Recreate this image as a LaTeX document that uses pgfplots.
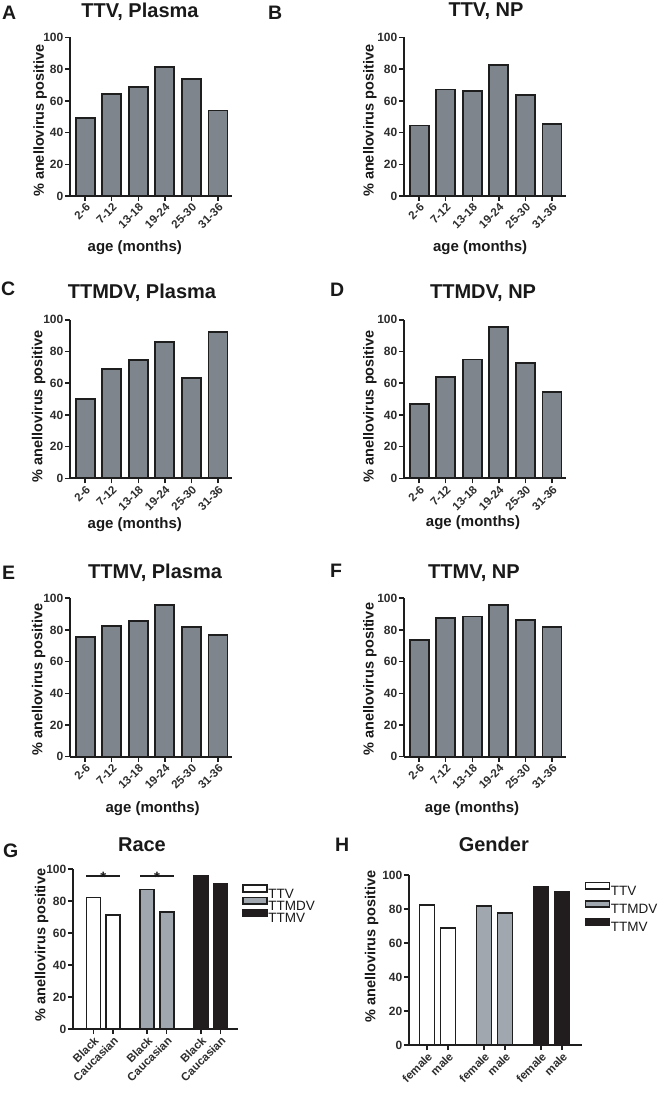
\documentclass[border=0pt]{standalone}
\usepackage{fontspec}
\setmainfont{Liberation Sans}
\usepackage{pgfplots}
\pgfplotsset{compat=1.18}

\newcommand\fs[1]{\fontsize{#1}{#1}\selectfont}

\definecolor{bargray}{RGB}{126,133,141}
\definecolor{ttmdv}{RGB}{160,167,175}
\definecolor{ttmv}{RGB}{33,29,30}
\definecolor{axcol}{RGB}{30,30,30}
\definecolor{tkcol}{RGB}{45,45,45}
\definecolor{lbcol}{RGB}{25,25,25}

\pgfplotsset{
  panel/.style={
    scale only axis, anchor=south west, clip=false,
    axis x line*=bottom, axis y line*=left,
    axis line style={line width=1.8pt, draw=axcol, -},
    tick style={line width=1.5pt, draw=axcol},
    tick align=outside, major tick length=5pt,
    ymin=0, ymax=100, ytick={0,20,...,100},
    /pgf/number format/assume math mode=true,
    yticklabel style={font=\fs{12}\bfseries, text=tkcol, inner sep=1.5pt},
    xticklabel style={font=\fs{11.5}\bfseries, text=tkcol, rotate=45, anchor=north east, inner sep=1pt},
    ylabel={\% anellovirus positive},
    ylabel style={font=\fs{14.5}\bfseries, text=lbcol, anchor=center},
    xlabel style={font=\fs{15}\bfseries, text=lbcol, anchor=center},
    title style={font=\fs{20}\bfseries, text=lbcol, anchor=base},
  },
  age/.style={panel, width=162pt, height=158.5pt, xmin=-0.57, xmax=5.53,
    xtick={0,...,5}, xticklabels={2-6,7-12,13-18,19-24,25-30,31-36},
    xlabel={age (months)}},
  gbar/.style={ybar, bar shift=0pt, bar width=19pt, fill=bargray, draw=axcol, line width=1.8pt},
  sw/.style={legend image code/.code={\draw[##1] (0pt,1.2pt) rectangle (24pt,7.8pt);}},
  leg/.style={legend cell align=left,
    legend style={draw=none, fill=none, font=\fs{13.5}, text=lbcol, inner sep=0pt,
      anchor=north west, nodes={inner sep=0.5pt, text height=10pt, text depth=0pt}}},
}

\begin{document}
\begin{tikzpicture}
\useasboundingbox (0,0) rectangle (670pt,1100pt);

% panel letters
\begin{scope}[every node/.style={anchor=base west, font=\fs{19.5}\bfseries, text=lbcol, inner sep=0pt}]
\node at (2pt,1080pt) {A};
\node at (268pt,1080pt) {B};
\node at (1pt,804pt) {C};
\node at (330pt,803pt) {D};
\node at (2pt,520pt) {E};
\node at (330pt,522pt) {F};
\node at (3pt,242pt) {G};
\node at (335pt,248pt) {H};
\end{scope}

% A
\begin{axis}[age, at={(70pt,904pt)}, title={TTV, Plasma},
  title style={at={(axis description cs:0.432,1.088)}},
  ylabel style={at={(axis description cs:-0.185,0.475)}},
  xlabel style={at={(axis description cs:0.40,-0.328)}}]
\addplot[gbar] coordinates {(0,49.4) (1,64.5) (2,69.0) (3,81.4) (4,73.9) (5,53.9)};
\end{axis}

% B
\begin{axis}[age, at={(404pt,904pt)}, title={TTV, NP},
  title style={at={(axis description cs:0.506,1.096)}},
  ylabel style={at={(axis description cs:-0.21,0.475)}},
  xlabel style={at={(axis description cs:0.47,-0.328)}}]
\addplot[gbar] coordinates {(0,44.5) (1,67.2) (2,66.0) (3,82.5) (4,63.7) (5,45.6)};
\end{axis}

% C
\begin{axis}[age, at={(70pt,621.7pt)}, title={TTMDV, Plasma},
  title style={at={(axis description cs:0.444,1.095)}},
  ylabel style={at={(axis description cs:-0.194,0.454)}},
  xlabel style={at={(axis description cs:0.40,-0.295)}}]
\addplot[gbar] coordinates {(0,50.2) (1,68.8) (2,74.4) (3,86.2) (4,63.5) (5,92.1)};
\end{axis}

% D
\begin{axis}[age, at={(404pt,621.7pt)}, title={TTMDV, NP},
  title style={at={(axis description cs:0.488,1.095)}},
  ylabel style={at={(axis description cs:-0.21,0.454)}},
  xlabel style={at={(axis description cs:0.426,-0.282)}}]
\addplot[gbar] coordinates {(0,47.1) (1,63.9) (2,74.9) (3,95.5) (4,72.8) (5,54.6)};
\end{axis}

% E
\begin{axis}[age, at={(70pt,343.3pt)}, title={TTMV, Plasma},
  title style={at={(axis description cs:0.525,1.089)}},
  ylabel style={at={(axis description cs:-0.194,0.486)}},
  xlabel style={at={(axis description cs:0.51,-0.325)}}]
\addplot[gbar] coordinates {(0,75.6) (1,82.6) (2,85.7) (3,95.7) (4,81.7) (5,76.7)};
\end{axis}

% F
\begin{axis}[age, at={(404pt,343.3pt)}, title={TTMV, NP},
  title style={at={(axis description cs:0.432,1.089)}},
  ylabel style={at={(axis description cs:-0.21,0.49)}},
  xlabel style={at={(axis description cs:0.42,-0.325)}}]
\addplot[gbar] coordinates {(0,73.5) (1,87.4) (2,88.5) (3,95.7) (4,86.4) (5,81.9)};
\end{axis}

% G
\begin{axis}[panel, leg, at={(73pt,71pt)}, width=165pt, height=160pt,
  xmin=-1.05, xmax=7.4, xtick={0,1,2.75,3.75,5.5,6.5},
  xticklabels={Black,Caucasian,Black,Caucasian,Black,Caucasian},
  title={Race}, title style={at={(axis description cs:0.418,1.069)}},
  ylabel style={at={(axis description cs:-0.19,0.525)}},
  legend style={at={(axis description cs:1.024,0.905)}, row sep=-2pt}]
\addplot[ybar, bar shift=0pt, bar width=14pt, fill=white, draw=axcol, line width=1.8pt, sw]
  coordinates {(0,82.2) (1,71.0)};
\addlegendentry{TTV}
\addplot[ybar, bar shift=0pt, bar width=14pt, fill=ttmdv, draw=axcol, line width=1.8pt, sw]
  coordinates {(2.75,87.2) (3.75,73.0)};
\addlegendentry{TTMDV}
\addplot[ybar, bar shift=0pt, bar width=14pt, fill=ttmv, draw=ttmv, line width=1.8pt, sw]
  coordinates {(5.5,95.5) (6.5,90.9)};
\addlegendentry{TTMV}
\draw[line width=1.8pt, axcol] (axis cs:-0.36,95.4) -- (axis cs:1.36,95.4);
\draw[line width=1.8pt, axcol] (axis cs:2.39,95.4) -- (axis cs:4.11,95.4);
\node[anchor=base, font=\fs{15}\bfseries, text=lbcol, inner sep=0pt] at (axis cs:0.5,91.5) {*};
\node[anchor=base, font=\fs{15}\bfseries, text=lbcol, inner sep=0pt] at (axis cs:3.25,91.5) {*};
\end{axis}

% H
\begin{axis}[panel, leg, at={(409pt,55pt)}, width=173pt, height=170pt,
  xmin=-0.86, xmax=7.38, xtick={0,1,2.71,3.71,5.43,6.43},
  xticklabels={female,male,female,male,female,male},
  title={Gender}, title style={at={(axis description cs:0.49,1.1)}},
  ylabel style={at={(axis description cs:-0.216,0.58)}},
  legend style={at={(axis description cs:1.014,0.962)}, row sep=4pt}]
\addplot[ybar, bar shift=0pt, bar width=15pt, fill=white, draw=axcol, line width=1.8pt, sw]
  coordinates {(0,82.4) (1,68.7)};
\addlegendentry{TTV}
\addplot[ybar, bar shift=0pt, bar width=15pt, fill=ttmdv, draw=axcol, line width=1.8pt, sw]
  coordinates {(2.71,81.7) (3.71,77.5)};
\addlegendentry{TTMDV}
\addplot[ybar, bar shift=0pt, bar width=15pt, fill=ttmv, draw=ttmv, line width=1.8pt, sw]
  coordinates {(5.43,93.2) (6.43,89.9)};
\addlegendentry{TTMV}
\end{axis}
\end{tikzpicture}
\end{document}
